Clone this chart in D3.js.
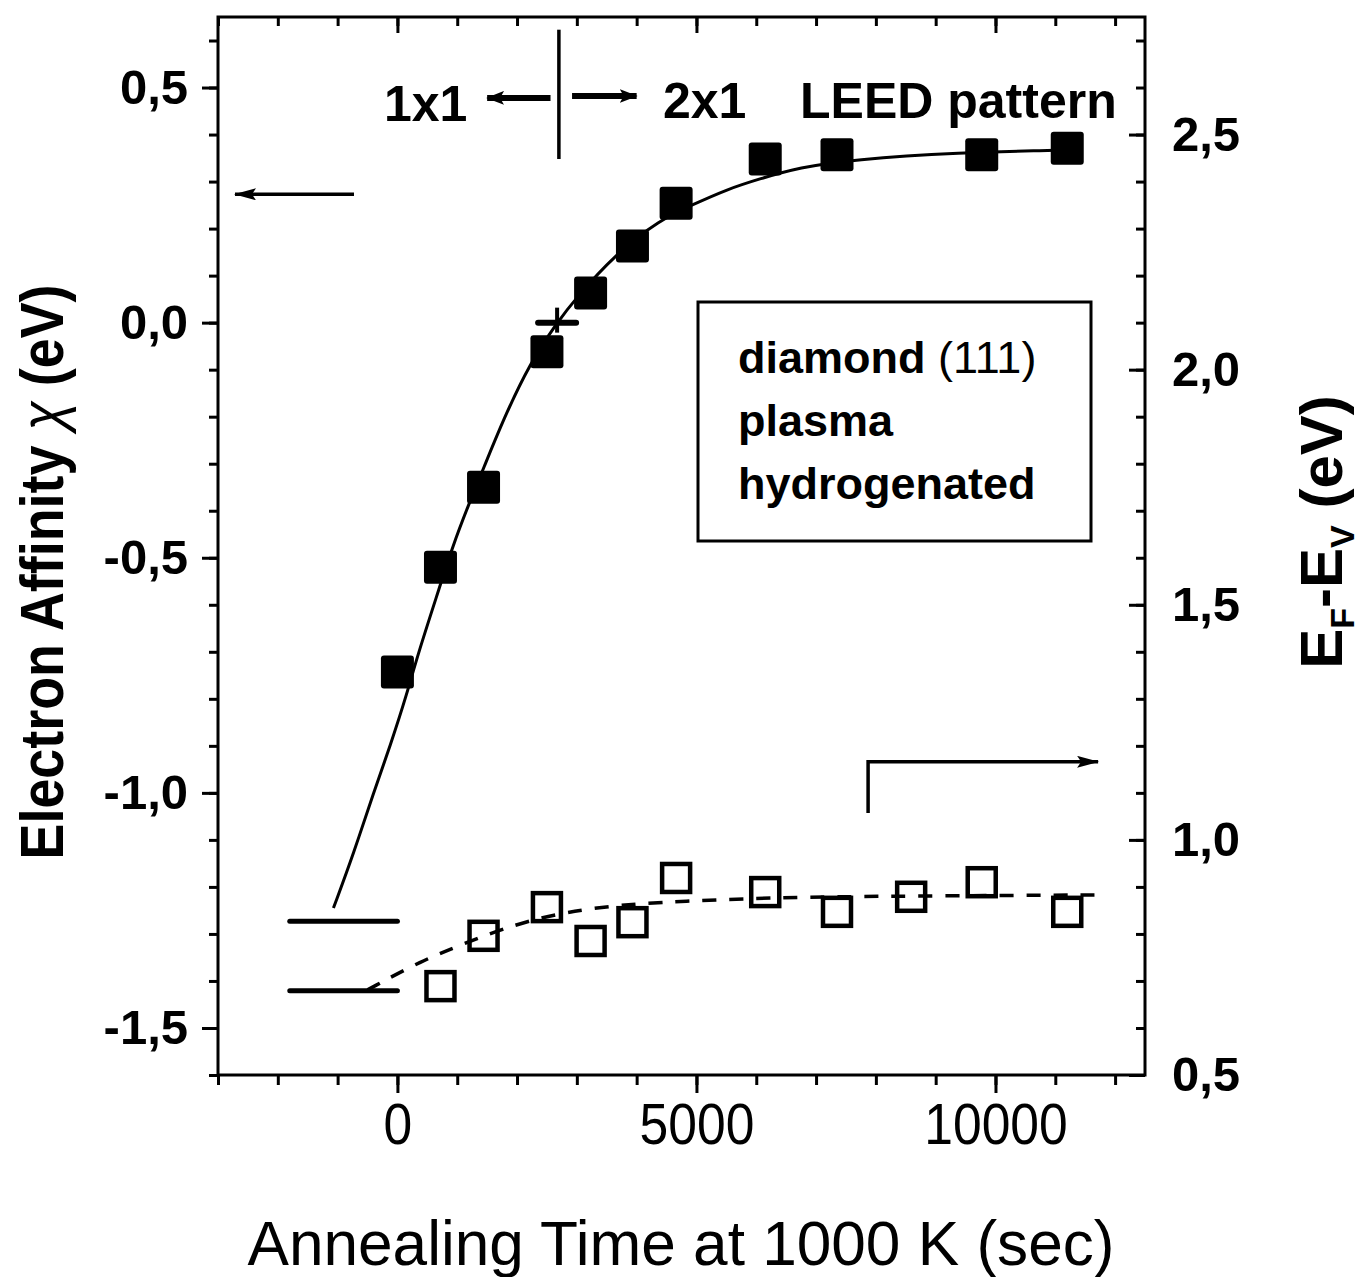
<!DOCTYPE html>
<html>
<head>
<meta charset="utf-8">
<script src="https://cdn.jsdelivr.net/npm/d3@7"></script>
<style>
  body { margin: 0; background: #fff; }
  svg text { font-family: "Liberation Sans", Arial, sans-serif; fill: #000; }
</style>
</head>
<body>
<div id="vis"></div>
<script>
// filled squares: electron affinity (left axis)
const chiTime = [0, 720, 1440, 2500, 3230, 3930, 4660, 6150, 7350, 9770, 11200];
const chiValue = [-0.743, -0.520, -0.350, -0.062, 0.063, 0.163, 0.254, 0.348, 0.357, 0.357, 0.371];

// open squares: E_F - E_V (right axis)
const efTime = [720, 1440, 2500, 3230, 3930, 4660, 6150, 7350, 8590, 9770, 11200];
const efValue = [0.689, 0.796, 0.857, 0.785, 0.825, 0.919, 0.889, 0.847, 0.879, 0.910, 0.847];

// fitted curves
const fitChiTime = [-1070, -730, -400, -120, 170, 330, 720, 920, 1180, 1440, 1770, 2220, 2670, 2970, 3640, 4390, 4940, 5500, 6060, 6720, 7600, 9440, 10900, 11360];
const fitChiValue = [-1.245, -1.128, -1.0, -0.90, -0.785, -0.71, -0.557, -0.477, -0.39, -0.31, -0.206, -0.085, 0.0, 0.05, 0.145, 0.219, 0.251, 0.283, 0.306, 0.33, 0.347, 0.362, 0.366, 0.368];
const fitEfTime = [-500, 380, 1220, 2220, 3390, 4720, 6720, 9220, 11750];
const fitEfValue = [0.681, 0.742, 0.785, 0.832, 0.859, 0.870, 0.879, 0.881, 0.883];

// ticks
const xMajor = [0, 5000, 10000];
const xMinor = d3.range(-3000, 12001, 1000);
const leftMajor = [-1.5, -1.0, -0.5, 0.0, 0.5];
const leftMinor = d3.range(-16, 7).map(d => d / 10);
const rightMajor = [0.5, 1.0, 1.5, 2.0, 2.5];
const rightMinor = d3.range(5, 28).map(d => d / 10);

// reference levels before annealing
const refStart = -1800, refEnd = 0;
const refChi = -1.273;   // left axis
const refEf = 0.679;     // right axis
const leedTime = 2700;   // 1x1 -> 2x1 transition
const crossTime = 2670;

const W = 1366, H = 1277;
const plot = { left: 218, right: 1145, top: 17, bottom: 1075 };

const svg = d3.select('#vis').append('svg')
  .attr('width', W).attr('height', H)
  .attr('viewBox', `0 0 ${W} ${H}`);

const x = d3.scaleLinear().domain([-3000, 12500]).range([plot.left, plot.right]);
const yL = d3.scaleLinear().domain([-1.6, 0.65]).range([plot.bottom, plot.top]);
const yR = d3.scaleLinear().domain([0.5, 2.75]).range([plot.bottom, plot.top]);

const comma = d => d3.format('.1f')(d).replace('.', ',').replace('−', '-');

// arrowheads
const defs = svg.append('defs');
function arrowMarker(id, w, h) {
  defs.append('marker')
    .attr('id', id)
    .attr('viewBox', `0 0 ${w} ${h}`)
    .attr('refX', w - 1).attr('refY', h / 2)
    .attr('markerUnits', 'userSpaceOnUse')
    .attr('markerWidth', w).attr('markerHeight', h)
    .attr('orient', 'auto')
    .append('path')
    .attr('d', `M0,0 L${w},${h / 2} L0,${h} L4,${h / 2} Z`)
    .attr('fill', '#000');
}
arrowMarker('headThin', 22, 12);
arrowMarker('headThick', 18, 14);

// axes: bottom (outward), top (inward), left (outward), right (inward)
function styleAxis(g) {
  g.select('.domain').remove();
  g.selectAll('line').attr('stroke', '#000').attr('stroke-width', 3);
}

svg.append('g').attr('transform', `translate(0,${plot.bottom})`)
  .call(d3.axisBottom(x).tickValues(xMinor).tickSize(10).tickFormat(''))
  .call(styleAxis);
const xAx = svg.append('g').attr('transform', `translate(0,${plot.bottom})`)
  .call(d3.axisBottom(x).tickValues(xMajor).tickSize(18).tickPadding(10).tickFormat(d3.format('d')))
  .call(styleAxis);
xAx.selectAll('text')
  .attr('font-size', 58)
  .attr('textLength', d => String(d).length * 28.7)
  .attr('lengthAdjust', 'spacingAndGlyphs');

svg.append('g').attr('transform', `translate(0,${plot.top})`)
  .call(d3.axisTop(x).tickValues(xMinor).tickSize(-9).tickFormat(''))
  .call(styleAxis);
svg.append('g').attr('transform', `translate(0,${plot.top})`)
  .call(d3.axisTop(x).tickValues(xMajor).tickSize(-16).tickFormat(''))
  .call(styleAxis);

svg.append('g').attr('transform', `translate(${plot.left},0)`)
  .call(d3.axisLeft(yL).tickValues(leftMinor).tickSize(9).tickFormat(''))
  .call(styleAxis);
const lAx = svg.append('g').attr('transform', `translate(${plot.left},0)`)
  .call(d3.axisLeft(yL).tickValues(leftMajor).tickSize(16).tickPadding(14).tickFormat(comma))
  .call(styleAxis);
lAx.selectAll('text').attr('font-size', 49).attr('font-weight', 'bold');

svg.append('g').attr('transform', `translate(${plot.right},0)`)
  .call(d3.axisRight(yR).tickValues(rightMinor).tickSize(-9).tickFormat(''))
  .call(styleAxis);
const rAx = svg.append('g').attr('transform', `translate(${plot.right},0)`)
  .call(d3.axisRight(yR).tickValues(rightMajor).tickSize(-16).tickPadding(27).tickFormat(comma))
  .call(styleAxis);
rAx.selectAll('text').attr('font-size', 49).attr('font-weight', 'bold');

// frame
svg.append('rect')
  .attr('x', plot.left).attr('y', plot.top)
  .attr('width', plot.right - plot.left).attr('height', plot.bottom - plot.top)
  .attr('fill', 'none').attr('stroke', '#000').attr('stroke-width', 3);

// axis titles
svg.append('text')
  .attr('x', 681).attr('y', 1265)
  .attr('text-anchor', 'middle')
  .attr('font-size', 63)
  .attr('textLength', 867).attr('lengthAdjust', 'spacingAndGlyphs')
  .text('Annealing Time at 1000 K (sec)');

const lt = svg.append('text')
  .attr('transform', 'translate(63,572) rotate(-90)')
  .attr('text-anchor', 'middle')
  .attr('font-size', 62).attr('font-weight', 'bold')
  .attr('textLength', 575).attr('lengthAdjust', 'spacingAndGlyphs');
lt.append('tspan').text('Electron Affinity ');
lt.append('tspan').attr('font-style', 'italic').attr('font-weight', 'normal').text('χ');
lt.append('tspan').text(' (eV)');

const rt = svg.append('text')
  .attr('transform', 'translate(1342,532) rotate(-90)')
  .attr('text-anchor', 'middle')
  .attr('font-size', 60).attr('font-weight', 'bold');
rt.append('tspan').text('E');
rt.append('tspan').attr('font-size', 34).attr('dy', 12).text('F');
rt.append('tspan').attr('dy', -12).text('-E');
rt.append('tspan').attr('font-size', 34).attr('dy', 12).text('V');
rt.append('tspan').attr('dy', -12).text(' (eV)');

// fitted curves
const lineL = d3.line().x(d => x(d[0])).y(d => yL(d[1])).curve(d3.curveBasis);
const lineR = d3.line().x(d => x(d[0])).y(d => yR(d[1])).curve(d3.curveBasis);

svg.append('path')
  .datum(d3.zip(fitChiTime, fitChiValue))
  .attr('d', lineL)
  .attr('fill', 'none').attr('stroke', '#000').attr('stroke-width', 3);

svg.append('path')
  .datum(d3.zip(fitEfTime, fitEfValue))
  .attr('d', lineR)
  .attr('fill', 'none').attr('stroke', '#000').attr('stroke-width', 3.5)
  .attr('stroke-dasharray', '14,13');

// reference levels
svg.append('line')
  .attr('x1', x(refStart)).attr('x2', x(refEnd))
  .attr('y1', yL(refChi)).attr('y2', yL(refChi))
  .attr('stroke', '#000').attr('stroke-width', 5).attr('stroke-linecap', 'round');
svg.append('line')
  .attr('x1', x(refStart)).attr('x2', x(refEnd))
  .attr('y1', yR(refEf)).attr('y2', yR(refEf))
  .attr('stroke', '#000').attr('stroke-width', 5).attr('stroke-linecap', 'round');

// filled squares
const sF = 33;
svg.append('g').selectAll('rect')
  .data(d3.zip(chiTime, chiValue))
  .join('rect')
  .attr('x', d => x(d[0]) - sF / 2).attr('y', d => yL(d[1]) - sF / 2)
  .attr('width', sF).attr('height', sF).attr('rx', 3)
  .attr('fill', '#000');

// open squares
const sO = 28;
svg.append('g').selectAll('rect')
  .data(d3.zip(efTime, efValue))
  .join('rect')
  .attr('x', d => x(d[0]) - sO / 2).attr('y', d => yR(d[1]) - sO / 2)
  .attr('width', sO).attr('height', sO)
  .attr('fill', 'none').attr('stroke', '#000').attr('stroke-width', 4.5);

// cross at chi = 0
svg.append('line')
  .attr('x1', x(crossTime) - 19).attr('x2', x(crossTime) + 19)
  .attr('y1', yL(0)).attr('y2', yL(0))
  .attr('stroke', '#000').attr('stroke-width', 6).attr('stroke-linecap', 'round');
svg.append('line')
  .attr('x1', x(crossTime)).attr('x2', x(crossTime))
  .attr('y1', yL(0) - 15).attr('y2', yL(0) + 10)
  .attr('stroke', '#000').attr('stroke-width', 4);

// axis-direction arrows
svg.append('line')
  .attr('x1', x(-726)).attr('x2', x(-2716))
  .attr('y1', yL(0.273)).attr('y2', yL(0.273))
  .attr('stroke', '#000').attr('stroke-width', 3.5)
  .attr('marker-end', 'url(#headThin)');
svg.append('path')
  .attr('d', `M${x(7870)},${yR(1.057)} L${x(7870)},${yR(1.166)} L${x(11716)},${yR(1.166)}`)
  .attr('fill', 'none').attr('stroke', '#000').attr('stroke-width', 3.5)
  .attr('marker-end', 'url(#headThin)');

// LEED transition marker
svg.append('line')
  .attr('x1', x(leedTime)).attr('x2', x(leedTime))
  .attr('y1', yL(0.623)).attr('y2', yL(0.348))
  .attr('stroke', '#000').attr('stroke-width', 3.5);
svg.append('line')
  .attr('x1', x(2560)).attr('x2', x(1500))
  .attr('y1', yL(0.478)).attr('y2', yL(0.478))
  .attr('stroke', '#000').attr('stroke-width', 6)
  .attr('marker-end', 'url(#headThick)');
svg.append('line')
  .attr('x1', x(2920)).attr('x2', x(4000))
  .attr('y1', yL(0.482)).attr('y2', yL(0.482))
  .attr('stroke', '#000').attr('stroke-width', 6)
  .attr('marker-end', 'url(#headThick)');

svg.append('text').attr('x', 384).attr('y', 121)
  .attr('font-size', 50).attr('font-weight', 'bold').text('1x1');
svg.append('text').attr('x', 663).attr('y', 118)
  .attr('font-size', 50).attr('font-weight', 'bold').text('2x1');
svg.append('text').attr('x', 800).attr('y', 118)
  .attr('font-size', 50).attr('font-weight', 'bold').text('LEED pattern');

// sample box
svg.append('rect')
  .attr('x', 698).attr('y', 302).attr('width', 393).attr('height', 239)
  .attr('fill', '#fff').attr('stroke', '#000').attr('stroke-width', 3);
const boxLines = [['diamond ', '(111)'], ['plasma', ''], ['hydrogenated', '']];
const boxText = svg.append('g').selectAll('text')
  .data(boxLines)
  .join('text')
  .attr('x', 738).attr('y', (d, i) => 373 + i * 63)
  .attr('font-size', 45);
boxText.append('tspan').attr('font-weight', 'bold').text(d => d[0]);
boxText.append('tspan').text(d => d[1]);
</script>
</body>
</html>
